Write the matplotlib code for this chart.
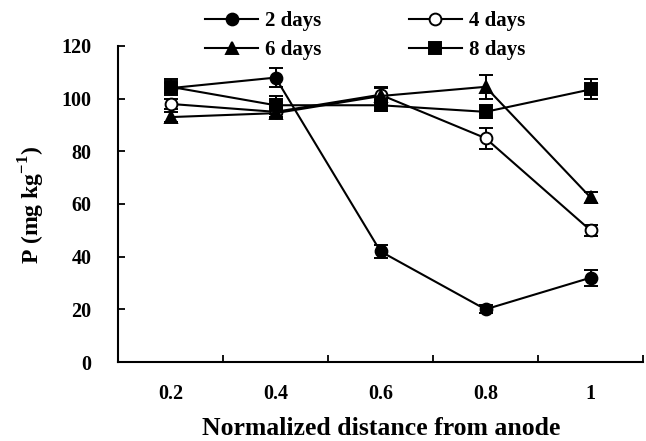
import matplotlib
matplotlib.use("Agg")
import matplotlib.pyplot as plt
import numpy as np

distances = ["0.2", "0.4", "0.6", "0.8", "1"]
series_names = ["2 days", "4 days", "6 days", "8 days"]
p_2days = [104, 108, 42, 20, 32]
p_4days = [98, 95, 101.5, 85, 50]
p_6days = [93, 94.5, 101, 104.5, 62.5]
p_8days = [104.5, 97.5, 97.5, 95, 103.5]
err_2days = [2, 3.5, 2.5, 1.5, 3]
err_4days = [2, 2, 3, 4, 2]
err_6days = [2, 2, 3, 4.5, 2.2]
err_8days = [3, 3.5, 2, 2.5, 3.8]
y_ticks = [0, 20, 40, 60, 80, 100, 120]

plt.rcParams['font.family'] = ['Liberation Serif', 'DejaVu Serif']
plt.rcParams['font.weight'] = 'bold'
plt.rcParams['mathtext.fontset'] = 'custom'
plt.rcParams['mathtext.rm'] = 'Liberation Serif:bold'
plt.rcParams['mathtext.bf'] = 'Liberation Serif:bold'

fig = plt.figure(figsize=(6.46, 4.41), dpi=100)
ax = fig.add_axes([118/646, 1-362/441, (643-118)/646, (362-46)/441])

x = np.arange(len(distances))
styles = [
    dict(marker='o', mfc='black', ms=8.5),
    dict(marker='o', mfc='white', ms=8.5),
    dict(marker='^', mfc='black', ms=8.5),
    dict(marker='s', mfc='black', ms=8),
]
values = [p_2days, p_4days, p_6days, p_8days]
errs = [err_2days, err_4days, err_6days, err_8days]
handles = []
for name, v, e, st in zip(series_names, values, errs, styles):
    h = ax.errorbar(x, v, yerr=e, color='black', lw=1.5, mec='black', mew=1.4,
                    capsize=5, capthick=1.6, elinewidth=1.4, label=name, **st)
    handles.append(h[0])

ax.set_xlim(-0.5, len(distances) - 0.5)
ax.set_ylim(0, 120)
ax.set_yticks(y_ticks)
ax.set_yticklabels([str(t) for t in y_ticks])
ax.set_xticks(np.arange(len(distances)) + 0.5)
ax.set_xticklabels([])
ax.set_xticks(x, minor=True)
ax.set_xticklabels(distances, minor=True)
ax.tick_params(axis='x', which='minor', length=0, pad=16, labelsize=14.5)
ax.tick_params(axis='x', which='major', direction='in', length=5, width=1.3)
ax.tick_params(axis='y', direction='in', length=5, width=1.3, pad=19, labelsize=14.5)
for s in ['top', 'right']:
    ax.spines[s].set_visible(False)
for s in ['left', 'bottom']:
    ax.spines[s].set_linewidth(1.5)

ax.set_xlabel("Normalized distance from anode", fontsize=18.5, fontweight='bold')
ax.xaxis.label.set_va('baseline')
ax.xaxis.set_label_coords(0.502, (362 - 435) / 316)
ax.set_ylabel(r"P (mg kg$^{-1}$)", fontsize=17, fontweight='bold')
ax.yaxis.label.set_va('center')
ax.yaxis.set_label_coords((32 - 118) / 525, (362 - 205) / 316)

order = [0, 2, 1, 3]
leg = fig.legend([handles[i] for i in order], [series_names[i] for i in order],
                 loc='upper left', bbox_to_anchor=(205/646, 0.974),
                 ncol=2, frameon=False, fontsize=15, handlelength=2.55, handletextpad=0.33,
                 columnspacing=4.2, labelspacing=0.42, borderpad=0, borderaxespad=0)

fig.savefig("out.png", dpi=100)
